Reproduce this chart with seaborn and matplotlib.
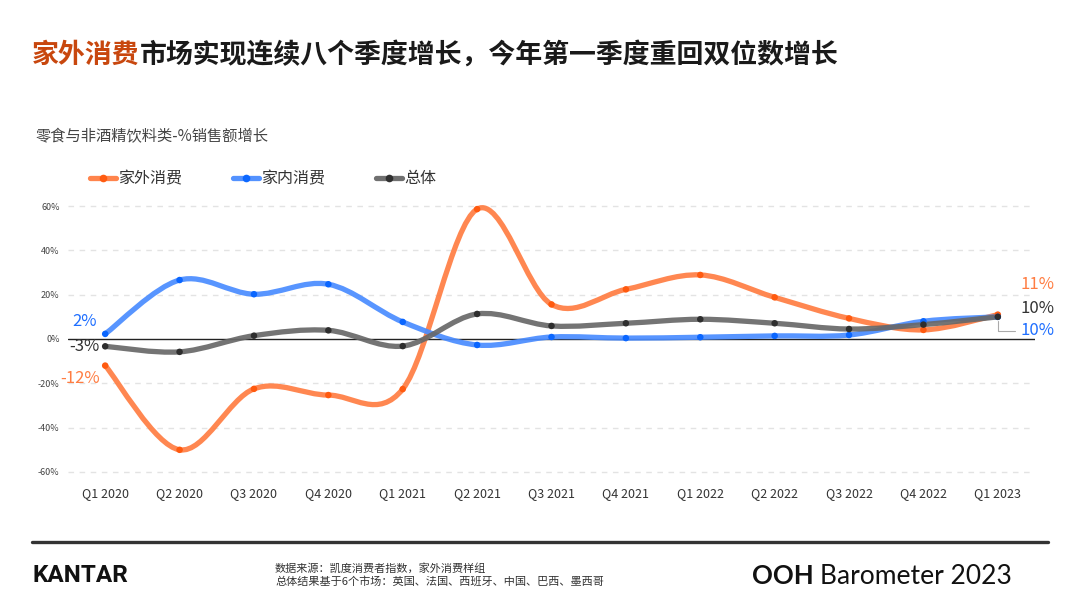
import matplotlib
matplotlib.use("Agg")
import matplotlib.pyplot as plt
from matplotlib.path import Path
from matplotlib.patches import PathPatch
from matplotlib.lines import Line2D
import seaborn as sns
import pandas as pd
import numpy as np

# ---------------- data ----------------
quarters = ["Q1 2020", "Q2 2020", "Q3 2020", "Q4 2020", "Q1 2021", "Q2 2021", "Q3 2021",
            "Q4 2021", "Q1 2022", "Q2 2022", "Q3 2022", "Q4 2022", "Q1 2023"]
series_names = ["家外消费", "家内消费", "总体"]
ooh = [-12, -50, -22.5, -25.3, -22.6, 58.6, 15.6, 22.4, 28.9, 18.8, 9.3, 4.1, 11]
ih = [2.3, 26.6, 20.2, 24.7, 7.7, -2.7, 0.9, 0.4, 0.8, 1.4, 1.8, 8.0, 10]
total = [-3.3, -5.8, 1.5, 3.9, -3.2, 11.3, 5.9, 7.1, 8.9, 7.1, 4.5, 6.5, 10]
yticks = [-60, -40, -20, 0, 20, 40, 60]
start_labels = ["-12%", "2%", "-3%"]
end_labels = ["11%", "10%", "10%"]

line_colors = ["#FF7D42", "#4A8CFF", "#686868"]
dot_colors = ["#FF5A0F", "#0A66FF", "#2E2E2E"]
label_colors = ["#FF7D42", "#1F6FFF", "#333333"]

sns.set_theme(style="white")
plt.rcParams["font.family"] = ["Noto Sans CJK SC", "DejaVu Sans"]

fig = plt.figure(figsize=(10.8, 6.08), dpi=100)
ax = fig.add_axes([68 / 1080, 1 - 474.2 / 608, (1035 - 68) / 1080, 270.4 / 608])

df = pd.DataFrame({
    "x": list(range(len(quarters))) * 3,
    "value": ooh + ih + total,
    "series": sum([[s] * len(quarters) for s in series_names], []),
})

# smooth curves (Catmull-Rom rendered as cubic Bezier path)
def smooth_path(xs, ys):
    pts = np.column_stack([xs, ys]).astype(float)
    n = len(pts)
    verts = [pts[0]]
    codes = [Path.MOVETO]
    for i in range(n - 1):
        p0 = pts[i - 1] if i > 0 else pts[i]
        p1 = pts[i]
        p2 = pts[i + 1]
        p3 = pts[i + 2] if i + 2 < n else pts[i + 1]
        c1 = p1 + (p2 - p0) / 6.0
        c2 = p2 - (p3 - p1) / 6.0
        verts += [c1, c2, p2]
        codes += [Path.CURVE4] * 3
    return Path(verts, codes)

for name, col in zip(series_names, line_colors):
    sub = df[df.series == name]
    patch = PathPatch(smooth_path(sub.x.values, sub.value.values), facecolor="none",
                      edgecolor=col, lw=3.8, capstyle="round", joinstyle="round",
                      alpha=0.92, zorder=3)
    ax.add_patch(patch)

sns.scatterplot(data=df, x="x", y="value", hue="series", palette=dict(zip(series_names, dot_colors)),
                s=22, edgecolor="none", legend=False, ax=ax, zorder=5)

ax.set_xlim(-0.5, len(quarters) - 0.5)
ax.set_ylim(-61, 61)
ax.set_xticks(range(len(quarters)))
ax.set_xticklabels(quarters, fontsize=9, color="#333333")
ax.set_yticks(yticks)
ax.set_yticklabels([f"{v}%" for v in yticks], fontsize=6.5, color="#444444")
ax.tick_params(axis="x", length=0, pad=9)
ax.tick_params(axis="y", length=0, pad=6)
ax.set_xlabel("")
ax.set_ylabel("")
for sp in ax.spines.values():
    sp.set_visible(False)
for v in yticks:
    if v != 0:
        ax.axhline(v, color="#e3e3e3", lw=1, ls=(0, (4, 4)), zorder=1)
ax.axhline(0, color="#222222", lw=1, zorder=2)

# start labels
series_vals = [ooh, ih, total]
start_offsets = [(-5, -13), (-8, 12), (-6, 0)]
for vals, lab, col, off in zip(series_vals, start_labels, label_colors, start_offsets):
    ax.annotate(lab, xy=(0, vals[0]), xytext=off, textcoords="offset pixels",
                ha="right", va="center", fontsize=12, color=col, fontweight="light")

# end labels
last = len(quarters) - 1
ax.annotate(end_labels[0], xy=(last, ooh[-1]), xytext=(23, 30), textcoords="offset pixels",
            ha="left", va="center", fontsize=12, color=label_colors[0], fontweight="light",
            annotation_clip=False)
ax.annotate(end_labels[2], xy=(last, total[-1]), xytext=(23, 8), textcoords="offset pixels",
            ha="left", va="center", fontsize=12, color=label_colors[2], fontweight="light",
            annotation_clip=False)
ax.annotate(end_labels[1], xy=(last, ih[-1]), xytext=(23, -14), textcoords="offset pixels",
            ha="left", va="center", fontsize=12, color=label_colors[1], fontweight="light",
            annotation_clip=False,
            arrowprops=dict(arrowstyle="-", color="#aaaaaa", lw=0.8,
                            connectionstyle="angle,angleA=0,angleB=90,rad=0",
                            shrinkA=2, shrinkB=3))

# legend
handles = [Line2D([0], [0], color=lc, lw=3.8, marker="o", markersize=4.5,
                  markerfacecolor=dc, markeredgecolor=dc, alpha=0.95)
           for lc, dc in zip(line_colors, dot_colors)]
fig.legend(handles, series_names, loc="center left", bbox_to_anchor=(90 / 1080, 1 - 179 / 608),
           ncol=3, frameon=False, fontsize=11.5, handlelength=1.6, handletextpad=0.15,
           columnspacing=3.2, borderpad=0, borderaxespad=0, labelcolor="#333333")

# title
fig.canvas.draw()
renderer = fig.canvas.get_renderer()
t1 = fig.text(32 / 1080, 1 - 55 / 608, "家外消费", fontsize=19.4, fontweight="bold",
              color="#C8470E", ha="left", va="center")
bb = t1.get_window_extent(renderer)
fig.text(bb.x1 / fig.bbox.width, 1 - 55 / 608, "市场实现连续八个季度增长，今年第一季度重回双位数增长",
         fontsize=19.4, fontweight="bold", color="#1a1a1a", ha="left", va="center")
fig.text(35 / 1080, 1 - 137 / 608, "零食与非酒精饮料类-%销售额增长", fontsize=11,
         color="#444444", ha="left", va="center")

# footer
fig.add_artist(Line2D([32 / 1080, 1048 / 1080], [1 - 542 / 608] * 2, color="#333333", lw=2.4,
                      transform=fig.transFigure))
fig.text(32 / 1080, 1 - 576 / 608, "KANTAR", fontsize=17.5, fontweight="bold", color="#111111",
         ha="left", va="center", family=["Roboto", "DejaVu Sans"])
fig.text(275 / 1080, 1 - 568 / 608, "数据来源：凯度消费者指数，家外消费样组", fontsize=8,
         color="#333333", ha="left", va="center")
fig.text(275 / 1080, 1 - 581 / 608, "总体结果基于6个市场：英国、法国、西班牙、中国、巴西、墨西哥", fontsize=8,
         color="#333333", ha="left", va="center")
t2 = fig.text(752 / 1080, 1 - 576 / 608, "OOH", fontsize=18.5, fontweight="bold", color="#111111",
              ha="left", va="center", family=["Lato", "DejaVu Sans"])
bb2 = t2.get_window_extent(renderer)
fig.text(bb2.x1 / fig.bbox.width + 0.006, 1 - 576 / 608, "Barometer 2023", fontsize=19,
         fontweight="normal", color="#111111", ha="left", va="center", family=["Lato", "DejaVu Sans"])

fig.savefig("out.png", dpi=100)
